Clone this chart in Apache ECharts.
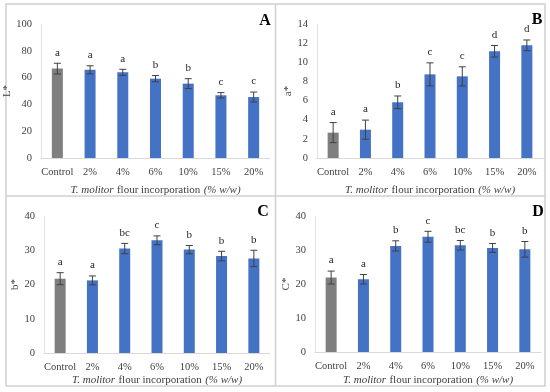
<!DOCTYPE html>
<html>
<head>
<meta charset="utf-8">
<script src="https://cdn.jsdelivr.net/npm/echarts@6/dist/echarts.min.js"></script>
<style>
  html, body { margin: 0; padding: 0; background: #fff; }
  #chart { width: 550px; height: 392px; }
</style>
</head>
<body>
<div id="chart"></div>
<script>
// categories (flour incorporation level)
const categories = ['Control', '2%', '4%', '6%', '10%', '15%', '20%']

// panel A: L*
const lValues = [66.7, 65.8, 63.9, 59.2, 55.5, 46.8, 45.5]
const lErrors = [4.0, 3.0, 2.3, 2.3, 3.7, 2.0, 3.7]
const lLetters = ['a', 'a', 'a', 'b', 'b', 'c', 'c']

// panel B: a*
const aValues = [2.65, 2.96, 5.82, 8.74, 8.53, 11.15, 11.77]
const aErrors = [1.05, 1.0, 0.66, 1.2, 1.0, 0.6, 0.56]
const aLetters = ['a', 'a', 'b', 'c', 'c', 'd', 'd']

// panel C: b*
const bValues = [21.7, 21.2, 30.5, 32.9, 30.2, 28.3, 27.6]
const bErrors = [1.75, 1.3, 1.5, 1.3, 1.2, 1.4, 2.4]
const bLetters = ['a', 'a', 'bc', 'c', 'b', 'b', 'b']

// panel D: C*
const cValues = [21.9, 21.4, 31.2, 33.9, 31.4, 30.6, 30.2]
const cErrors = [1.9, 1.4, 1.5, 1.6, 1.4, 1.3, 2.3]
const cLetters = ['a', 'a', 'b', 'c', 'bc', 'b', 'b']

const FONT = '"Liberation Serif", "DejaVu Serif", serif'
const GRAY = '#7f7f7f'
const BLUE = '#4472c4'

// panel layout
const panels = [
  {id: 'A', name: 'L*', values: lValues, errors: lErrors, letters: lLetters, max: 100, interval: 20,
    grid: {left: 41, top: 24, width: 229, height: 134}, xGap: 26},
  {id: 'B', name: 'a*', values: aValues, errors: aErrors, letters: aLetters, max: 14, interval: 2,
    grid: {left: 317, top: 24, width: 226, height: 134}, xGap: 26},
  {id: 'C', name: 'b*', values: bValues, errors: bErrors, letters: bLetters, max: 40, interval: 10,
    grid: {left: 44, top: 216, width: 226, height: 137}, xGap: 21},
  {id: 'D', name: 'C*', values: cValues, errors: cErrors, letters: cLetters, max: 40, interval: 10,
    grid: {left: 315, top: 216, width: 226, height: 136}, xGap: 22},
]

const grids = []
const xAxes = []
const yAxes = []
const series = []

panels.forEach((p, i) => {
  grids.push(p.grid)
  xAxes.push({
    type: 'category',
    gridIndex: i,
    data: categories,
    axisLine: {lineStyle: {color: '#d9d9d9', width: 1}},
    axisTick: {show: false},
    axisLabel: {fontFamily: FONT, fontSize: 10.5, color: '#404040', margin: 9, interval: 0},
    name: '{i|T. molitor} {n|flour incorporation} {i|(% w/w)}',
    nameLocation: 'middle',
    nameGap: p.xGap,
    nameTextStyle: {
      rich: {
        i: {fontFamily: FONT, fontStyle: 'italic', fontSize: 11, color: '#404040'},
        n: {fontFamily: FONT, fontSize: 11, color: '#404040'},
      },
    },
  })
  yAxes.push({
    type: 'value',
    gridIndex: i,
    min: 0,
    max: p.max,
    interval: p.interval,
    axisLine: {show: true, lineStyle: {color: '#e3e3e3', width: 1}},
    axisTick: {show: false},
    splitLine: {show: false},
    axisLabel: {fontFamily: FONT, fontSize: 10.5, color: '#404040', margin: 9},
    name: p.name,
    nameLocation: 'middle',
    nameRotate: 90,
    nameGap: 23,
    nameTextStyle: {fontFamily: FONT, fontSize: 11, color: '#404040'},
  })
  series.push({
    type: 'bar',
    xAxisIndex: i,
    yAxisIndex: i,
    barWidth: 11,
    data: p.values.map((v, k) => ({value: v, itemStyle: {color: k === 0 ? GRAY : BLUE}})),
  })
  // error bars + significance letters
  series.push({
    type: 'custom',
    xAxisIndex: i,
    yAxisIndex: i,
    z: 5,
    data: p.values.map((v, k) => [k, v, p.errors[k]]),
    renderItem: (params, api) => {
      const x = api.value(0)
      const v = api.value(1)
      const e = api.value(2)
      const top = api.coord([x, v + e])
      const bot = api.coord([x, v - e])
      const cap = 3.5
      const style = {stroke: '#404040', lineWidth: 1}
      return {
        type: 'group',
        children: [
          {type: 'line', shape: {x1: top[0], y1: top[1], x2: bot[0], y2: bot[1]}, style},
          {type: 'line', shape: {x1: top[0] - cap, y1: top[1], x2: top[0] + cap, y2: top[1]}, style},
          {type: 'line', shape: {x1: bot[0] - cap, y1: bot[1], x2: bot[0] + cap, y2: bot[1]}, style},
          {
            type: 'text',
            x: top[0],
            y: top[1] - 5,
            style: {
              text: p.letters[params.dataIndex],
              font: '11px ' + FONT,
              fill: '#262626',
              align: 'center',
              verticalAlign: 'bottom',
            },
          },
        ],
      }
    },
  })
})

// panel frames and letters
const frameStyle = {stroke: '#d0d0d0', lineWidth: 1.5, fill: null}
const graphic = [
  {type: 'rect', shape: {x: 6, y: 4, width: 539, height: 382}, style: frameStyle, silent: true},
  {type: 'line', shape: {x1: 275.5, y1: 4, x2: 275.5, y2: 386}, style: frameStyle, silent: true},
  {type: 'line', shape: {x1: 6, y1: 196, x2: 545, y2: 196}, style: frameStyle, silent: true},
]
const letterPos = [[265, 21], [537, 20], [263, 212], [538, 212]]
panels.forEach((p, i) => {
  graphic.push({
    type: 'text',
    x: letterPos[i][0],
    y: letterPos[i][1],
    style: {
      text: p.id,
      font: 'bold 16px ' + FONT,
      fill: '#000',
      align: 'center',
      verticalAlign: 'middle',
    },
  })
})

const myChart = echarts.init(document.getElementById('chart'))
myChart.setOption({
  animation: false,
  grid: grids,
  xAxis: xAxes,
  yAxis: yAxes,
  series,
  graphic,
})
</script>
</body>
</html>
